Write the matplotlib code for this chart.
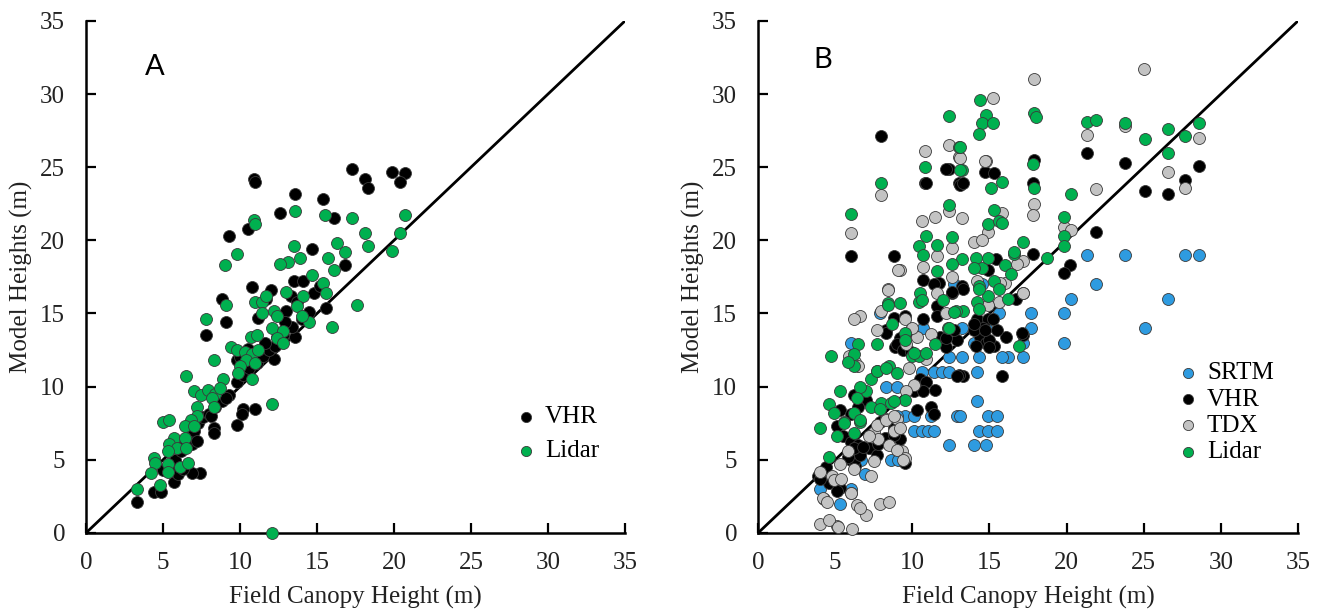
import matplotlib.pyplot as plt

# Panel A: VHR and lidar model heights against field canopy height (m)
a_vhr_x = [10.9, 11.0, 17.3, 18.1, 18.3, 13.6, 15.4, 12.6, 16.1, 10.5, 9.3, 14.7, 16.8, 13.5, 14.1,
           10.8, 8.8, 9.1, 7.8, 15.6, 13.0, 13.6, 12.2, 9.8, 11.0, 10.2, 10.1, 9.8, 8.3, 8.3,
           7.4, 6.9, 5.7, 4.4, 4.9, 3.3, 19.9, 20.7, 20.4,
           5.0, 5.5, 5.8, 6.2, 6.5, 6.8, 7.0, 7.3, 7.6, 8.0, 8.4, 8.8, 9.3, 9.8, 10.2, 10.6,
           11.1, 11.5, 11.9, 12.3, 12.8, 13.4, 14.0, 14.5, 10.0, 10.5, 11.2, 12.0, 11.7, 13.3,
           9.1, 8.1, 6.9, 6.0, 6.3, 7.2, 12.9, 11.6, 14.8, 15.2, 12.4, 13.7]
a_vhr_y = [24.2, 24.0, 24.9, 24.2, 23.6, 23.2, 22.8, 21.9, 21.5, 20.8, 20.3, 19.4, 18.3, 17.2, 17.2,
           16.8, 16.0, 14.4, 13.5, 15.4, 15.2, 13.4, 11.9, 11.8, 8.5, 8.5, 8.1, 7.4, 7.2, 6.8,
           4.1, 4.1, 3.5, 2.8, 2.8, 2.1, 24.7, 24.6, 24.0,
           4.3, 4.6, 5.0, 5.6, 6.2, 6.6, 7.0, 7.5, 7.9, 8.1, 8.6, 9.0, 9.4, 10.3, 10.8, 11.3,
           11.6, 12.1, 12.5, 12.8, 13.5, 14.1, 14.6, 15.1, 12.0, 12.6, 14.7, 16.6, 16.0, 16.2,
           9.2, 8.0, 6.1, 4.0, 4.4, 6.3, 14.4, 13.0, 16.4, 16.9, 13.4, 15.8]

a_lidar_x = [10.9, 11.0, 13.6, 15.5, 17.3, 18.1, 18.3, 9.8, 9.0, 13.5, 13.9, 13.1, 12.6, 16.3, 16.8,
             15.7, 16.1, 14.7, 15.4, 15.6, 17.6, 16.0, 14.5, 13.0, 14.1, 13.7, 14.0, 9.1, 7.8,
             11.0, 11.4, 11.7, 11.4, 12.2, 12.4, 12.1, 12.8, 12.4, 12.8, 10.7, 11.1, 9.4, 9.8,
             10.3, 10.8, 11.2, 10.4, 11.0, 10.0, 9.9, 10.8, 8.3, 6.5, 8.9, 7.0, 7.5, 7.9, 8.4,
             8.7, 8.2, 8.3, 7.2, 7.2, 6.8, 5.0, 5.4, 6.4, 7.0, 5.7, 6.4, 5.4, 5.9, 6.5, 5.3,
             4.4, 4.5, 5.3, 6.1, 6.6, 4.2, 5.3, 4.8, 3.3, 12.1, 12.1, 20.7, 20.4, 19.9]
a_lidar_y = [21.4, 21.1, 22.0, 21.7, 21.5, 20.5, 19.6, 19.1, 18.3, 19.6, 18.8, 18.5, 18.4, 19.8, 19.2,
             18.8, 18.0, 17.6, 17.1, 16.4, 15.6, 14.1, 14.4, 16.5, 16.2, 15.5, 14.8, 15.6, 14.6,
             15.8, 15.8, 16.2, 15.0, 15.2, 14.8, 14.0, 13.8, 13.3, 13.0, 13.4, 13.5, 12.7, 12.5,
             12.4, 12.2, 12.5, 11.8, 11.6, 11.4, 10.9, 10.5, 11.8, 10.7, 10.5, 9.7, 9.4, 9.8, 9.5,
             9.9, 9.2, 8.6, 8.6, 8.0, 7.7, 7.6, 7.7, 7.3, 7.3, 6.5, 6.5, 6.1, 5.8, 5.8, 5.6,
             5.1, 4.8, 4.7, 4.5, 4.8, 4.1, 4.2, 3.3, 3.0, 8.8, 0.0, 21.7, 20.5, 19.3]

# Panel B: SRTM, VHR, TDX and lidar
b_srtm_x = [21.3, 23.8, 27.7, 28.6, 21.9, 20.3, 26.6, 19.8, 17.7, 17.7, 19.8, 25.1, 17.2, 17.2,
            16.2, 15.8, 14.3, 14.2, 14.2, 14.9, 15.5, 14.3, 14.9, 15.5, 14.0, 14.8, 14.5, 12.7,
            9.5, 10.1, 10.1, 10.6, 11.0, 11.4, 11.2, 12.9, 12.4, 13.1, 10.6, 11.4, 11.9, 12.4,
            12.4, 13.2, 8.3, 9.0, 13.2, 10.7, 6.0, 4.0, 5.3, 6.0, 8.6, 9.1, 6.7, 7.9, 14.0,
            15.6, 9.0, 6.9, 14.8]
b_srtm_y = [19, 19, 19, 19, 17, 16, 16, 15, 15, 14, 13, 14, 13, 12,
            12, 12, 12, 11, 9, 8, 8, 7, 7, 7, 6, 6, 17, 17,
            8, 8, 7, 7, 7, 7, 8, 8, 6, 8, 11, 11, 11, 11,
            12, 12, 10, 10, 14, 14, 13, 3, 2, 3, 5, 5, 5, 15, 13,
            15, 8, 4, 14]

b_vhr_x = [8.0, 6.0, 8.8, 10.8, 12.4, 13.0, 14.7, 15.3, 21.3, 23.8, 25.1, 26.6, 28.6, 27.7,
           21.9, 20.2, 19.8, 17.9, 17.8, 17.8, 17.2, 16.1, 15.8, 10.7, 11.7, 12.6, 13.2, 16.7,
           17.2, 13.3, 13.3, 14.9, 15.4, 13.1, 14.2, 14.9, 15.5, 14.4, 14.8, 14.1, 15.3, 14.6,
           14.0, 15.2, 15.0, 17.1, 11.4, 11.6, 12.6, 8.3, 9.2, 8.9, 9.9, 11.8, 12.2, 12.9,
           10.5, 10.9, 10.1, 10.7, 13.0, 10.3, 11.2, 6.2, 7.0, 5.3, 6.0, 6.5, 5.1, 5.5, 6.0,
           6.5, 7.2, 7.7, 7.8, 8.7, 9.2, 3.9, 4.6, 5.3, 4.4, 6.0, 6.3, 6.2, 6.6, 6.2, 5.8,
           6.8, 4.0, 5.1, 4.3, 9.5, 8.2, 8.8, 7.9, 8.8, 11.5, 12.9, 12.2, 12.7, 8.3, 9.0, 9.4,
           9.9, 8.8, 9.5, 10.7, 11.6, 14.0, 14.7, 15.0, 11.4, 12.2, 13.3, 10.9]
b_vhr_y = [27.1, 18.9, 18.9, 23.9, 24.9, 23.9, 24.7, 24.6, 26.0, 25.3, 23.4, 23.2, 25.1, 24.1,
           20.6, 18.3, 17.8, 25.5, 23.9, 19.1, 13.5, 13.4, 10.7, 17.3, 17.1, 16.4, 16.9, 16.0,
           16.4, 16.7, 10.7, 18.0, 18.7, 23.8, 14.6, 14.6, 13.9, 13.4, 13.0, 12.8, 12.8, 14.0,
           13.9, 14.6, 13.2, 13.7, 17.0, 15.5, 16.5, 13.9, 13.3, 12.7, 13.9, 13.4, 12.7, 13.2,
           10.5, 10.3, 9.7, 9.7, 10.8, 8.4, 8.6, 9.4, 9.1, 8.4, 8.1, 8.6, 7.3, 6.6, 6.2,
           6.0, 5.8, 5.3, 6.1, 6.6, 6.4, 3.9, 3.4, 3.1, 4.5, 5.0, 4.6, 4.9, 5.3, 5.8, 5.2,
           5.9, 3.7, 2.9, 2.3, 4.8, 6.5, 6.7, 7.6, 7.2, 9.8, 10.7, 13.3, 13.9, 13.7, 12.9, 12.5,
           12.4, 14.7, 14.8, 14.6, 14.8, 14.3, 13.9, 12.7, 8.1, 24.9, 23.9, 23.9]

b_tdx_x = [6.0, 8.0, 9.2, 8.4, 12.4, 13.0, 10.8, 15.2, 14.8, 12.4, 10.6, 11.5, 13.2, 14.9,
           14.0, 14.5, 12.6, 11.6, 10.7, 12.6, 11.6, 25.0, 17.9, 21.3, 23.8, 28.6, 26.6, 27.7,
           21.9, 19.8, 20.3, 17.9, 17.8, 17.2, 13.1, 14.7, 15.8, 16.8, 16.0, 17.2, 14.2, 15.7,
           15.6, 14.9, 9.1, 8.4, 8.0, 6.6, 6.2, 7.7, 5.9, 6.3, 6.5, 9.5, 10.3, 9.6, 10.1, 9.6,
           8.3, 9.0, 8.8, 9.3, 9.5, 7.5, 7.8, 5.8, 6.2, 4.8, 7.9, 8.5, 6.0, 6.4, 7.0, 4.0,
           5.1, 6.1, 4.2, 4.6, 5.2, 4.9, 5.4, 4.5, 6.0, 6.6, 7.3, 4.0, 5.3, 8.5, 9.0, 9.4,
           7.5, 7.2, 7.7, 8.3, 8.8, 9.2, 10.0, 11.2, 12.2, 9.8, 10.9]
b_tdx_y = [20.5, 23.1, 18.0, 16.7, 26.5, 25.7, 26.1, 29.7, 25.4, 22.0, 21.3, 21.6, 21.5, 20.6,
           19.9, 20.0, 19.5, 18.9, 18.2, 17.5, 16.4, 31.7, 31.0, 27.2, 27.8, 27.0, 24.7, 23.6,
           23.5, 20.9, 20.7, 22.5, 21.7, 18.6, 25.6, 25.4, 21.9, 18.4, 17.1, 16.4, 17.2, 17.1,
           15.8, 15.6, 18.0, 16.6, 15.2, 14.8, 14.6, 13.9, 12.1, 11.7, 11.4, 14.6, 13.4, 12.9,
           10.1, 9.7, 7.8, 7.8, 7.0, 5.6, 5.1, 6.9, 6.4, 5.6, 4.4, 3.9, 2.0, 2.1, 2.7, 1.9,
           1.2, 0.6, 0.5, 0.3, 2.4, 0.9, 0.4, 3.6, 3.7, 2.1, 2.7, 1.7, 3.9, 4.2, 4.7, 6.0,
           5.7, 5.0, 4.9, 6.6, 7.4, 7.7, 8.0, 7.2, 14.0, 13.6, 15.0, 11.3, 11.9]

b_lidar_x = [6.0, 8.0, 8.4, 9.2, 12.4, 13.0, 10.8, 13.2, 14.4, 14.8, 14.5, 15.2, 14.3, 15.1,
             12.4, 15.3, 14.9, 15.6, 10.9, 10.4, 11.6, 10.7, 12.6, 13.2, 12.6, 11.6, 14.1, 14.5,
             14.9, 14.0, 14.3, 15.3, 14.2, 14.9, 10.5, 10.4, 12.0, 17.9, 18.0, 21.3, 21.9, 23.8,
             25.1, 26.6, 26.6, 27.7, 28.6, 20.3, 19.8, 19.8, 19.8, 18.7, 17.8, 17.9, 15.8, 15.8,
             17.2, 16.6, 16.0, 16.4, 16.9, 16.2, 15.6, 14.3, 14.3, 16.6, 13.1, 13.1, 13.3, 12.8,
             8.4, 8.7, 9.5, 7.7, 12.3, 11.5, 10.0, 10.4, 6.5, 6.2, 6.2, 5.8, 4.7, 7.7, 8.5, 9.0,
             7.3, 7.0, 6.6, 6.4, 8.0, 8.6, 9.5, 4.6, 4.9, 5.6, 6.2, 6.6, 4.0, 5.1, 6.2, 4.6,
             5.3, 7.7, 8.3, 9.5, 10.1, 10.9, 12.4, 12.7, 7.3, 7.9, 8.8, 6.6, 5.6, 10.6]
b_lidar_y = [21.8, 23.9, 15.7, 15.7, 28.5, 26.4, 25.0, 24.8, 29.6, 28.6, 28.0, 28.0, 27.3, 23.6,
             22.4, 22.1, 21.1, 21.3, 20.3, 19.6, 19.7, 19.0, 20.2, 18.7, 18.4, 17.9, 18.8, 18.1,
             18.8, 18.1, 16.9, 17.2, 15.8, 16.2, 16.4, 15.8, 15.9, 28.7, 28.4, 28.1, 28.2, 28.0,
             26.9, 27.6, 26.0, 27.1, 28.0, 23.2, 21.6, 20.3, 19.6, 18.8, 25.2, 23.6, 24.0, 21.2,
             19.9, 19.1, 18.3, 17.7, 12.8, 16.0, 16.7, 16.7, 15.3, 19.2, 24.8, 26.4, 15.2, 15.2,
             15.6, 14.3, 13.7, 12.9, 14.0, 12.9, 12.1, 12.1, 12.9, 12.2, 11.4, 11.7, 12.1, 11.1,
             11.4, 10.9, 10.5, 9.7, 10.0, 9.2, 8.9, 8.9, 9.1, 8.8, 8.2, 7.6, 8.2, 7.6, 7.2, 6.6,
             6.8, 5.2, 9.7, 11.1, 11.3, 13.2, 12.3, 12.3, 14.0, 15.1, 8.6, 8.5, 9.0, 7.7, 7.5, 15.9]

serif = ['Liberation Serif', 'DejaVu Serif']
edge = '#3a3a3a'
ms = 74
fs = 18

fig = plt.figure(figsize=(13.29, 6.14), dpi=100)
ax_a = fig.add_axes([0.0647, 0.132, 0.4056, 0.834])
ax_b = fig.add_axes([0.5704, 0.132, 0.4063, 0.834])


def style_axes(ax, letter, lx, ly):
    ax.plot([0, 35], [0, 35], color='black', lw=2.0, zorder=1)
    ax.set_xlim(0, 35)
    ax.set_ylim(0, 35)
    ax.set_xticks(range(0, 36, 5))
    ax.set_yticks(range(0, 36, 5))
    for s in ['top', 'right']:
        ax.spines[s].set_visible(False)
    for s in ['left', 'bottom']:
        ax.spines[s].set_linewidth(1.8)
    ax.tick_params(direction='in', length=7, width=1.6, labelsize=fs)
    ax.tick_params(axis='x', pad=14)
    ax.tick_params(axis='y', pad=15)
    for lab in ax.get_xticklabels() + ax.get_yticklabels():
        lab.set_family(serif)
        lab.set_color('#222222')
    ax.set_xlabel('Field Canopy Height (m)', fontsize=fs, family=serif, color='#222222', labelpad=8)
    ax.set_ylabel('Model Heights (m)', fontsize=fs, family=serif, color='#222222', labelpad=5)
    ax.text(lx, ly, letter, transform=ax.transAxes, fontsize=21, family=['Lato', 'DejaVu Sans'],
            ha='center', va='center')


style_axes(ax_a, 'A', 0.128, 0.91)
ax_a.scatter(a_vhr_x, a_vhr_y, s=ms, c='black', edgecolors=edge, linewidths=0.6, label='VHR',
             zorder=2, clip_on=False)
ax_a.scatter(a_lidar_x, a_lidar_y, s=ms, c='#00b04f', edgecolors=edge, linewidths=0.6, label='Lidar',
             zorder=3, clip_on=False)
ax_a.legend(loc='center left', bbox_to_anchor=(0.775, 0.193), frameon=False, markerscale=0.85,
            handletextpad=0.25, labelspacing=0.45, handlelength=1.0, borderaxespad=0,
            prop={'family': serif, 'size': fs})

style_axes(ax_b, 'B', 0.12, 0.924)
ax_b.scatter(b_srtm_x, b_srtm_y, s=ms, c='#2e9be0', edgecolors=edge, linewidths=0.6, label='SRTM',
             zorder=2, clip_on=False)
ax_b.scatter(b_vhr_x, b_vhr_y, s=ms, c='black', edgecolors=edge, linewidths=0.6, label='VHR',
             zorder=3, clip_on=False)
ax_b.scatter(b_tdx_x, b_tdx_y, s=ms, c='#c3c3c3', edgecolors=edge, linewidths=0.6, label='TDX',
             zorder=4, clip_on=False)
ax_b.scatter(b_lidar_x, b_lidar_y, s=ms, c='#00b04f', edgecolors=edge, linewidths=0.6, label='Lidar',
             zorder=5, clip_on=False)
ax_b.legend(loc='center left', bbox_to_anchor=(0.755, 0.235), frameon=False, markerscale=0.85,
            handletextpad=0.25, labelspacing=0.15, handlelength=1.0, borderaxespad=0,
            prop={'family': serif, 'size': fs})

fig.savefig('out.png', dpi=100)
